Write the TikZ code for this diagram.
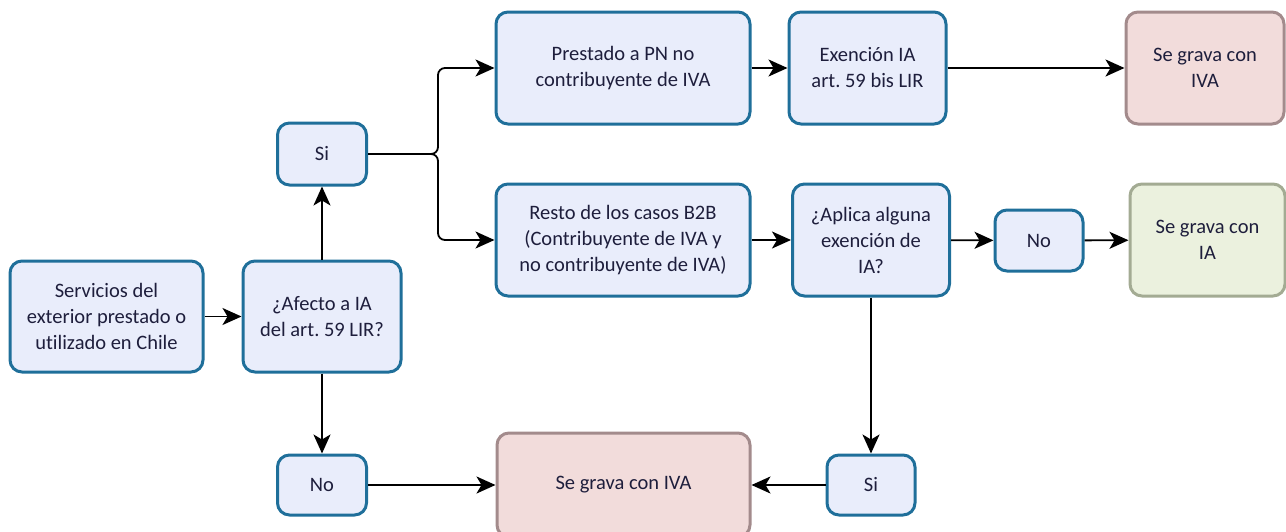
\documentclass[tikz,border=0pt]{standalone}
\usepackage{fontspec}
\setmainfont{Carlito}[Ligatures=NoCommon]
\usetikzlibrary{arrows.meta}
\definecolor{bfill}{HTML}{E9EDFB}
\definecolor{bdraw}{HTML}{1F6F9A}
\definecolor{pfill}{HTML}{F2DCDB}
\definecolor{pdraw}{HTML}{A38B8C}
\definecolor{gfill}{HTML}{EBF1DE}
\definecolor{gdraw}{HTML}{A3AB93}
\definecolor{txt}{HTML}{1E1E3C}
\frenchspacing
\tikzset{
  box/.style={draw=bdraw, fill=bfill, line width=3pt, rounded corners=12pt, align=center, text=txt, inner sep=2pt,
    font=\fontsize{20.5}{26}\selectfont},
  pbox/.style={box, draw=pdraw, fill=pfill},
  gbox/.style={box, draw=gdraw, fill=gfill},
  conn/.style={line width=1.8pt, -{Stealth[length=19pt,width=17pt,inset=5pt]}},
}
\begin{document}
\begin{tikzpicture}[x=1pt,y=-1pt]
\useasboundingbox (0,0) rectangle (1286,531);
\node[box, minimum width=193pt, minimum height=111pt] (serv) at (106.5,316.5) {Servicios del\\exterior prestado o\\utilizado en Chile};
\node[box, minimum width=158pt, minimum height=111pt] (afecto) at (322,316.5) {¿Afecto a IA\\del art. 59 LIR?};
\node[box, minimum width=89pt, minimum height=62pt] (si1) at (322,154) {Si};
\node[box, minimum width=89pt, minimum height=60pt] (no1) at (322,485) {No};
\node[box, minimum width=254pt, minimum height=112pt] (prest) at (623,68) {Prestado a PN no\\contribuyente de IVA};
\node[box, minimum width=157pt, minimum height=112pt] (exen) at (867.5,68) {Exención IA\\art. 59 bis LIR};
\node[pbox, minimum width=158pt, minimum height=112pt] (iva1) at (1205,68) {Se grava con\\IVA};
\node[box, minimum width=254pt, minimum height=112pt] (resto) at (623,240) {Resto de los casos B2B\\(Contribuyente de IVA y\\no contribuyente de IVA)};
\node[box, minimum width=157pt, minimum height=112pt] (aplica) at (871,240) {¿Aplica alguna\\exención de\\IA?};
\node[box, minimum width=88pt, minimum height=61pt] (no2) at (1039,240.5) {No};
\node[gbox, minimum width=155pt, minimum height=112pt] (ia) at (1207.5,240) {Se grava con\\IA};
\node[box, minimum width=88pt, minimum height=60pt] (si2) at (871,485) {Si};
\node[pbox, minimum width=253pt, minimum height=104pt] (iva2) at (623.5,485) {Se grava con IVA};
\coordinate (br) at (438,154);
\draw[conn] (serv) -- (afecto);
\draw[conn] (afecto) -- (si1);
\draw[conn] (afecto) -- (no1);
\draw[conn, rounded corners=7pt] (si1.east) -- (br) |- (prest.west);
\draw[conn, rounded corners=7pt] (si1.east) -- (br) |- (resto.west);
\draw[conn] (prest) -- (exen);
\draw[conn] (exen) -- (iva1);
\draw[conn] (resto) -- (aplica);
\draw[conn] (aplica) -- (no2);
\draw[conn] (no2) -- (ia);
\draw[conn] (aplica.south) -- (si2.north);
\draw[conn] (si2) -- (iva2);
\draw[conn] (no1) -- (iva2);
\end{tikzpicture}
\end{document}
